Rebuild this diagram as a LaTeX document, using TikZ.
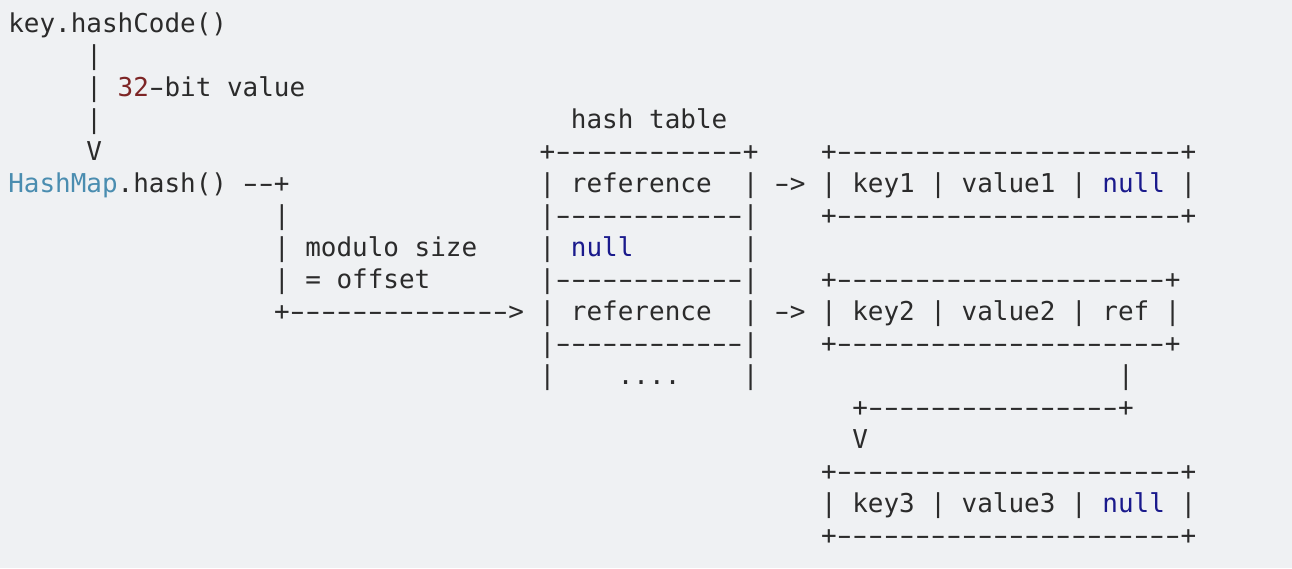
\documentclass[tikz,border=0pt]{standalone}
\usepackage{fontspec}
\usepackage{graphicx}
\setmonofont{DejaVu Sans Mono}
\definecolor{bgcol}{HTML}{EFF1F3}
\definecolor{inkcol}{HTML}{2B2B2B}
\definecolor{classcol}{HTML}{4A8DB0}
\definecolor{numcol}{HTML}{7D2525}
\definecolor{nullcol}{HTML}{1A1A8C}
\tikzstyle{ascii}=[anchor=base west,inner sep=0pt,outer sep=0pt,text=inkcol,font=\ttfamily\fontsize{25.96pt}{32pt}\selectfont\frenchspacing]
\newcommand{\nul}{{\color{nullcol}null}}
% wider hyphen, same advance as one cell
\newcommand{\hy}{\makebox[0.602em][c]{\scalebox{1.65}[1]{-}}}
\newcommand{\dashrun}[1]{\foreach \k in {1,...,#1}{\hy}}

\begin{document}
\begin{tikzpicture}[x=15.63pt,y=-32pt]
    % First we draw the code block background
    \fill[bgcol] (-8.3pt,32pt) rectangle (1283.7pt,-536pt);
    % Then the hash path on the left
    \foreach \pos/\name/\txt in {{(0,0)/code/{key.hashCode()}}, {(5,1)/barA/{|}},
        {(5,2)/barB/{| {\color{numcol}32}\hy bit value}}, {(5,3)/barC/{|}}, {(5,4)/headA/{V}},
        {(0,5)/hash/{{\color{classcol}HashMap}.hash() \dashrun{2}+}}, {(17,6)/barD/{|}},
        {(17,7)/modA/{| modulo size}}, {(17,8)/modB/{| = offset}}, {(17,9)/route/{+\dashrun{14}>}}}
        \node[ascii] (\name) at \pos {\txt};
    % The hash table
    \foreach \pos/\name/\txt in {{(36,3)/title/{hash table}}, {(34,4)/tabtop/{+\dashrun{12}+}},
        {(34,5)/slotA/{| reference~ |}}, {(34,6)/sepA/{|\dashrun{12}|}},
        {(34,7)/slotB/{| \nul~~~~~~ |}}, {(34,8)/sepB/{|\dashrun{12}|}},
        {(34,9)/slotC/{| reference~ |}}, {(34,10)/sepC/{|\dashrun{12}|}},
        {(34,11)/slotD/{|~~~ ....~~~ |}}}
        \node[ascii] (\name) at \pos {\txt};
    % Entries chained off the buckets
    \foreach \pos/\name/\txt in {{(49,5)/linkA/{\hy>}}, {(49,9)/linkB/{\hy>}},
        {(52,4)/topA/{+\dashrun{22}+}}, {(52,5)/entryA/{| key1 | value1 | \nul\ |}},
        {(52,6)/botA/{+\dashrun{22}+}},
        {(52,8)/topB/{+\dashrun{21}+}}, {(52,9)/entryB/{| key2 | value2 | ref |}},
        {(52,10)/botB/{+\dashrun{21}+}}, {(71,11)/drop/{|}},
        {(54,12)/bend/{+\dashrun{16}+}}, {(54,13)/headB/{V}},
        {(52,14)/topC/{+\dashrun{22}+}}, {(52,15)/entryC/{| key3 | value3 | \nul\ |}},
        {(52,16)/botC/{+\dashrun{22}+}}}
        \node[ascii] (\name) at \pos {\txt};
\end{tikzpicture}
\end{document}
